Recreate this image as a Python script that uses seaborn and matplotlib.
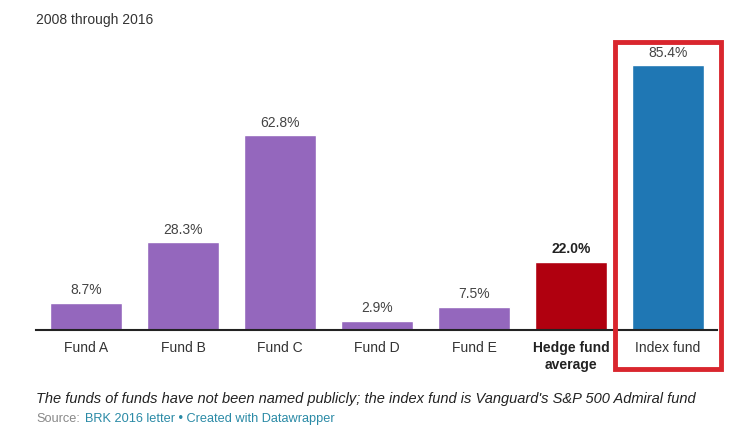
import numpy as np
import pandas as pd
import seaborn as sns
import matplotlib.pyplot as plt
from matplotlib.patches import Rectangle

# Data
categories = ["Fund A", "Fund B", "Fund C", "Fund D", "Fund E", "Hedge fund\naverage", "Index fund"]
returns = [8.7, 28.3, 62.8, 2.9, 7.5, 22.0, 85.4]
bar_colors = ["#9467bd", "#9467bd", "#9467bd", "#9467bd", "#9467bd", "#b0000f", "#1f77b4"]

sns.set_style("white")
plt.rcParams['font.family'] = ['Liberation Sans', 'DejaVu Sans']

df = pd.DataFrame({"Fund": categories, "Return": returns})

fig = plt.figure(figsize=(7.4, 4.37), dpi=100)
ax = fig.add_axes([36 / 740, 1 - 330 / 437, 681 / 740, 279 / 437])

sns.barplot(data=df, x="Fund", y="Return", hue="Fund", palette=bar_colors,
            width=0.74, saturation=1, legend=False, ax=ax)

ax.set_xlim(-0.515, 6.505)
ax.set_ylim(0, 90)
ax.set_xlabel("")
ax.set_ylabel("")
ax.set_yticks([])
for s in ["top", "right", "left"]:
    ax.spines[s].set_visible(False)
ax.spines["bottom"].set_color("#222222")
ax.spines["bottom"].set_linewidth(1.5)
ax.tick_params(axis="x", length=0, pad=8, labelsize=10, labelcolor="#333333")

for i, lbl in enumerate(ax.get_xticklabels()):
    if i == 5:
        lbl.set_fontweight("bold")
        lbl.set_color("#222222")
        lbl.set_linespacing(1.25)

# value labels
for i, v in enumerate(returns):
    ax.text(i, v + 1.8, f"{v:.1f}%", ha="center", va="bottom", fontsize=10,
            color="#222222" if i == 5 else "#444444",
            fontweight="bold" if i == 5 else "normal")

# highlight box around index fund
fig.patches.append(Rectangle((615 / 740, 1 - 369 / 437), 106 / 740, 327 / 437,
                             transform=fig.transFigure, fill=False,
                             edgecolor="#d9262e", linewidth=3.5))

fig.text(36 / 740, 1 - 20 / 437, "2008 through 2016", fontsize=10, color="#333333", va="center")
fig.text(36 / 740, 1 - 399 / 437,
         "The funds of funds have not been named publicly; the index fund is Vanguard's S&P 500 Admiral fund",
         fontsize=10.5, style="italic", color="#222222", va="center")
fig.text(36 / 740, 1 - 419 / 437, "Source:", fontsize=9.2, color="#888888", va="center")
fig.text(85 / 740, 1 - 419 / 437, "BRK 2016 letter • Created with Datawrapper",
         fontsize=9.2, color="#2a8aa6", va="center")

fig.savefig("out.png", dpi=100)
